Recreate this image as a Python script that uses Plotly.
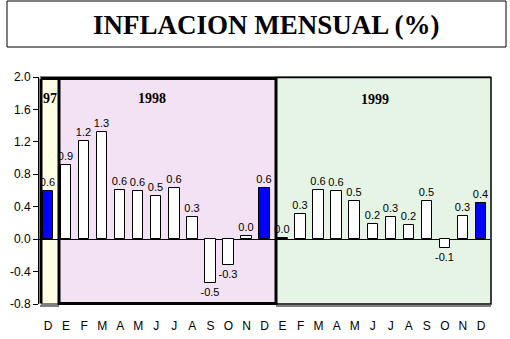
import plotly.graph_objects as go

months = ["D", "E", "F", "M", "A", "M", "J", "J", "A", "S", "O", "N", "D",
          "E", "F", "M", "A", "M", "J", "J", "A", "S", "O", "N", "D"]
values = [0.6,
          0.91, 1.21, 1.32, 0.61, 0.59, 0.53, 0.63, 0.27, -0.535, -0.325, 0.033, 0.63,
          0.012, 0.31, 0.61, 0.59, 0.47, 0.19, 0.27, 0.17, 0.47, -0.115, 0.28, 0.44]
labels = ["0.6",
          "0.9", "1.2", "1.3", "0.6", "0.6", "0.5", "0.6", "0.3", "-0.5", "-0.3", "0.0", "0.6",
          "0.0", "0.3", "0.6", "0.6", "0.5", "0.2", "0.3", "0.2", "0.5", "-0.1", "0.3", "0.4"]
highlight = [True] + [False] * 11 + [True] + [False] * 11 + [True]
ytick_vals = [-0.8, -0.4, 0.0, 0.4, 0.8, 1.2, 1.6, 2.0]
years = ["97", "1998", "1999"]
title = "INFLACION MENSUAL (%)"

W, H = 510, 339
L, R, T, B = 39, 490, 77, 304  # plot area in pixels


def px(x):
    return (x - L) / (R - L)


def py(y):
    return (B - y) / (B - T)


xs = list(range(len(months)))
colors = ["#0000FF" if h else "#FFFFFF" for h in highlight]

fig = go.Figure()
fig.add_trace(go.Bar(
    x=xs, y=values, width=0.58,
    marker=dict(color=colors, line=dict(color="black", width=1)),
    text=labels, textposition="outside", cliponaxis=False, constraintext="none",
    textfont=dict(family="Liberation Sans, Arial", size=11, color="black"),
    hoverinfo="skip",
))

shapes = []
# backgrounds
shapes.append(dict(type="rect", xref="paper", yref="paper", x0=px(40), x1=px(59), y0=0, y1=1,
                   fillcolor="#FFFFE6", line=dict(width=0), layer="below"))
shapes.append(dict(type="rect", xref="paper", yref="paper", x0=px(59), x1=px(276), y0=0, y1=1,
                   fillcolor="#F3E2F3", line=dict(width=0), layer="below"))
shapes.append(dict(type="rect", xref="paper", yref="paper", x0=px(276), x1=px(491), y0=0, y1=1,
                   fillcolor="#E6F4E6", line=dict(width=0), layer="below"))
# 1999 thin border
shapes.append(dict(type="rect", xref="paper", yref="paper", x0=px(276), x1=px(491), y0=py(304), y1=py(77.5),
                   line=dict(color="black", width=1.5), layer="above"))
# double bottom lines for 97 and 1999
shapes.append(dict(type="line", xref="paper", yref="paper", x0=px(40), x1=px(59), y0=py(306), y1=py(306),
                   line=dict(color="black", width=1), layer="above"))
shapes.append(dict(type="line", xref="paper", yref="paper", x0=px(276), x1=px(491), y0=py(306), y1=py(306),
                   line=dict(color="black", width=1), layer="above"))
# thick 1998 box and 97 walls
shapes.append(dict(type="rect", xref="paper", yref="paper", x0=px(59), x1=px(276), y0=py(303.5), y1=py(78.5),
                   line=dict(color="black", width=3), layer="above"))
shapes.append(dict(type="line", xref="paper", yref="paper", x0=px(41), x1=px(41), y0=py(303.5), y1=py(78.5),
                   line=dict(color="black", width=3), layer="above"))
shapes.append(dict(type="line", xref="paper", yref="paper", x0=px(41), x1=px(59), y0=py(78.5), y1=py(78.5),
                   line=dict(color="black", width=3), layer="above"))
shapes.append(dict(type="line", xref="paper", yref="paper", x0=px(40), x1=px(491), y0=py(77), y1=py(77),
                   line=dict(color="black", width=1), layer="above"))
shapes.append(dict(type="line", xref="paper", yref="paper", x0=px(41), x1=px(59), y0=py(304), y1=py(304),
                   line=dict(color="black", width=1), layer="above"))
# title box
shapes.append(dict(type="rect", xref="paper", yref="paper", x0=px(7), x1=px(506), y0=py(47), y1=py(1),
                   line=dict(color="black", width=1), fillcolor="white", layer="above"))

annotations = [
    dict(text="<b>" + title + "</b>", xref="paper", yref="paper", x=px(266), y=py(25),
         showarrow=False, xanchor="center", yanchor="middle",
         font=dict(family="Liberation Serif, Times New Roman", size=27, color="black")),
    dict(text="<b>" + years[0] + "</b>", xref="paper", yref="paper", x=px(50), y=py(98),
         showarrow=False, xanchor="center", yanchor="middle",
         font=dict(family="Liberation Serif, Times New Roman", size=14, color="black")),
    dict(text="<b>" + years[1] + "</b>", xref="paper", yref="paper", x=px(152), y=py(98),
         showarrow=False, xanchor="center", yanchor="middle",
         font=dict(family="Liberation Serif, Times New Roman", size=14, color="black")),
    dict(text="<b>" + years[2] + "</b>", xref="paper", yref="paper", x=px(375), y=py(99),
         showarrow=False, xanchor="center", yanchor="middle",
         font=dict(family="Liberation Serif, Times New Roman", size=14, color="black")),
]

fig.update_layout(
    width=W, height=H,
    margin=dict(l=L, r=W - R, t=T, b=H - B, pad=0, autoexpand=False),
    paper_bgcolor="white", plot_bgcolor="white",
    showlegend=False, bargap=0,
    shapes=shapes, annotations=annotations,
    xaxis=dict(range=[-0.5, len(months) - 0.5], tickvals=xs, ticktext=months,
               showgrid=False, zeroline=False, showline=False, ticks="",
               ticklabelstandoff=13, automargin=False,
               tickfont=dict(family="Liberation Sans, Arial", size=12, color="black")),
    yaxis=dict(range=[-0.8, 2.0], tickvals=ytick_vals,
               ticktext=["%.1f" % v for v in ytick_vals],
               showgrid=False, zeroline=True, zerolinecolor="black", zerolinewidth=1,
               showline=True, linecolor="black", linewidth=1, automargin=False,
               ticks="outside", ticklen=5, tickcolor="black",
               tickfont=dict(family="Liberation Sans, Arial", size=12, color="black")),
    font=dict(family="Liberation Sans, Arial", color="black"),
)

fig.write_html("out.html")
